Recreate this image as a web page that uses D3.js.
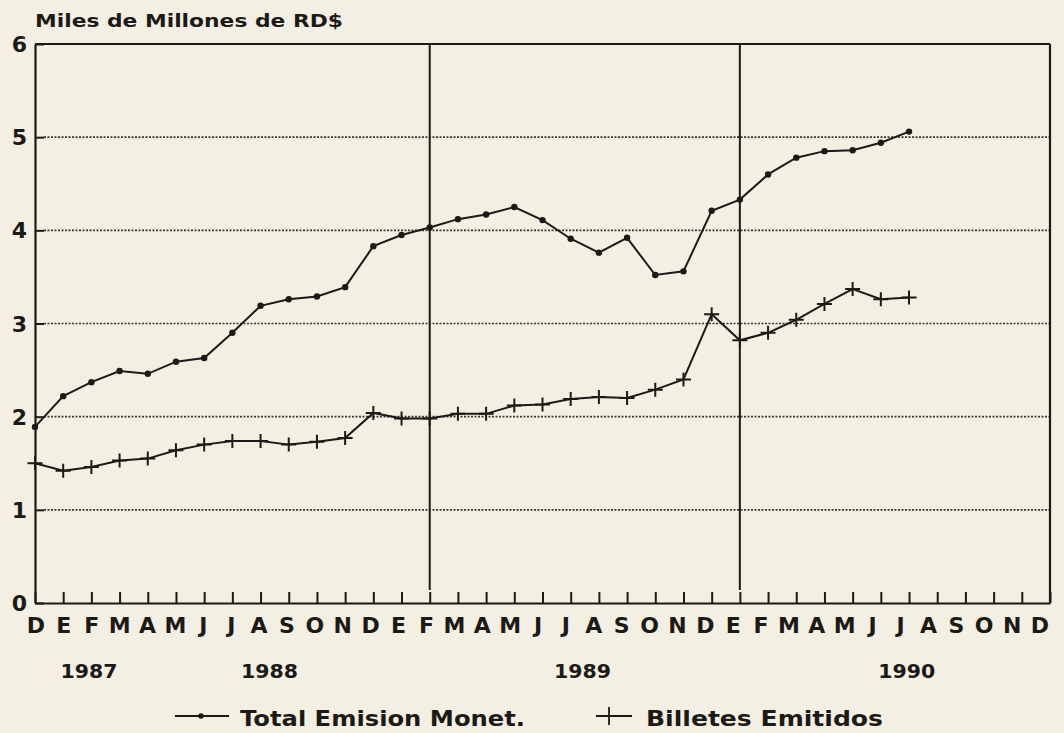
<!DOCTYPE html>
<html>
<head>
<meta charset="utf-8">
<script src="https://cdn.jsdelivr.net/npm/d3@7"></script>
<style>
body{margin:0;background:#f3efe3;}
svg{display:block;}
text{font-family:"DejaVu Sans","Liberation Sans",Arial,sans-serif;font-weight:bold;fill:#1c1a17;}
</style>
</head>
<body>
<script>
// data (monthly, index 0 = first D on the axis)
var months=["D","E","F","M","A","M","J","J","A","S","O","N","D","E","F","M","A","M","J","J","A","S","O","N","D","E","F","M","A","M","J","J","A","S","O","N","D"];
var years=["1987","1988","1989","1990"];
var yearAt=[1.9,8.3,19.4,30.9];
var dividers=[14,25];
var yTicks=[0,1,2,3,4,5,6];

var totalEmision=[1.89,2.22,2.37,2.49,2.46,2.59,2.63,2.90,3.19,3.26,3.29,3.39,3.83,3.95,4.03,4.12,4.17,4.25,4.11,3.91,3.76,3.92,3.52,3.56,4.21,4.33,4.60,4.78,4.85,4.86,4.94,5.06];
var billetes=[1.50,1.42,1.46,1.53,1.55,1.64,1.70,1.74,1.74,1.70,1.73,1.77,2.04,1.98,1.98,2.03,2.03,2.12,2.13,2.19,2.21,2.20,2.29,2.40,3.10,2.82,2.90,3.04,3.21,3.37,3.26,3.28];

var width=1064, height=733;
var plotLeft=35, plotRight=1050, plotTop=44, plotBottom=603;
var ink="#1c1a17";

var svg=d3.select("body").append("svg")
    .attr("width",width)
    .attr("height",height);

var x=d3.scaleLinear().domain([0,months.length-1]).range([plotLeft,plotRight]);
var xLab=d3.scaleLinear().domain([0,months.length-1]).range([36,1040]);
var y=d3.scaleLinear().domain([0,6]).range([plotBottom,plotTop]);

// title
svg.append("text")
    .attr("x",35).attr("y",27)
    .attr("font-size",17)
    .attr("textLength",308).attr("lengthAdjust","spacingAndGlyphs")
    .text("Miles de Millones de RD$");

// dotted gridlines
svg.append("g").selectAll("line")
    .data(yTicks.filter(function(d){return d>0&&d<6;}))
    .enter().append("line")
        .attr("x1",plotLeft+9).attr("x2",plotRight)
        .attr("y1",function(d){return y(d);})
        .attr("y2",function(d){return y(d);})
        .attr("stroke","#3a3733")
        .attr("stroke-width",1.6)
        .attr("stroke-dasharray","2,1.5");

// y axis with short inward ticks
var yAxis=svg.append("g")
    .attr("transform","translate("+plotLeft+",0)")
    .call(d3.axisRight(y).tickValues(yTicks).tickSize(9).tickSizeOuter(0).tickFormat(""));
yAxis.select(".domain").attr("stroke",ink).attr("stroke-width",2.2);
yAxis.selectAll(".tick line").attr("stroke",ink).attr("stroke-width",2);

svg.append("g").selectAll("text")
    .data(yTicks)
    .enter().append("text")
        .attr("x",27)
        .attr("y",function(d){return y(d)+8;})
        .attr("text-anchor","end")
        .attr("font-size",22)
        .text(function(d){return d;});

// x axis with upward ticks
var xAxis=svg.append("g")
    .attr("transform","translate(0,"+plotBottom+")")
    .call(d3.axisTop(x).ticks(36).tickSize(11).tickSizeOuter(0).tickFormat(""));
xAxis.select(".domain").attr("stroke",ink).attr("stroke-width",2.2);
xAxis.selectAll(".tick line").attr("stroke",ink).attr("stroke-width",2);

// top and right frame
svg.append("line").attr("x1",plotLeft).attr("x2",plotRight).attr("y1",plotTop).attr("y2",plotTop)
    .attr("stroke",ink).attr("stroke-width",2.2);
svg.append("line").attr("x1",plotRight).attr("x2",plotRight).attr("y1",plotTop).attr("y2",plotBottom)
    .attr("stroke",ink).attr("stroke-width",2.2);

// year dividers
svg.append("g").selectAll("line")
    .data(dividers)
    .enter().append("line")
        .attr("x1",function(d){return x(d);})
        .attr("x2",function(d){return x(d);})
        .attr("y1",plotTop).attr("y2",590)
        .attr("stroke",ink).attr("stroke-width",2);

// month letters
svg.append("g").selectAll("text")
    .data(months)
    .enter().append("text")
        .attr("x",function(d,i){return xLab(i);})
        .attr("y",633)
        .attr("text-anchor","middle")
        .attr("font-size",22)
        .text(function(d){return d;});

// years
svg.append("g").selectAll("text")
    .data(years)
    .enter().append("text")
        .attr("x",function(d,i){return x(yearAt[i])-28;})
        .attr("y",678)
        .attr("font-size",20)
        .attr("textLength",57).attr("lengthAdjust","spacingAndGlyphs")
        .text(function(d){return d;});

var line=d3.line()
    .x(function(d,i){return x(i);})
    .y(function(d){return y(d);});

// Total Emision Monet.
svg.append("path")
    .datum(totalEmision)
    .attr("d",line)
    .attr("fill","none")
    .attr("stroke",ink)
    .attr("stroke-width",2);
svg.append("g").selectAll("circle")
    .data(totalEmision)
    .enter().append("circle")
        .attr("cx",function(d,i){return x(i);})
        .attr("cy",function(d){return y(d);})
        .attr("r",3.2)
        .attr("fill",ink);

// Billetes Emitidos
svg.append("path")
    .datum(billetes)
    .attr("d",line)
    .attr("fill","none")
    .attr("stroke",ink)
    .attr("stroke-width",2);
svg.append("g").selectAll("path")
    .data(billetes)
    .enter().append("path")
        .attr("d",function(d,i){
            var cx=x(i), cy=y(d);
            return "M"+(cx-7.5)+","+cy+"H"+(cx+7.5)+"M"+cx+","+(cy-7)+"V"+(cy+7);
        })
        .attr("stroke",ink)
        .attr("stroke-width",2);

// legend
var lg=svg.append("g");
lg.append("line").attr("x1",175).attr("x2",229).attr("y1",716).attr("y2",716)
    .attr("stroke",ink).attr("stroke-width",1.8);
lg.append("circle").attr("cx",201).attr("cy",716).attr("r",2.8).attr("fill",ink);
lg.append("text").attr("x",240).attr("y",726).attr("font-size",21)
    .attr("textLength",285).attr("lengthAdjust","spacingAndGlyphs")
    .text("Total Emision Monet.");
lg.append("line").attr("x1",596).attr("x2",632).attr("y1",716).attr("y2",716)
    .attr("stroke",ink).attr("stroke-width",1.8);
lg.append("line").attr("x1",609).attr("x2",609).attr("y1",707).attr("y2",725)
    .attr("stroke",ink).attr("stroke-width",1.8);
lg.append("text").attr("x",646).attr("y",726).attr("font-size",21)
    .attr("textLength",237).attr("lengthAdjust","spacingAndGlyphs")
    .text("Billetes Emitidos");
</script>
</body>
</html>
